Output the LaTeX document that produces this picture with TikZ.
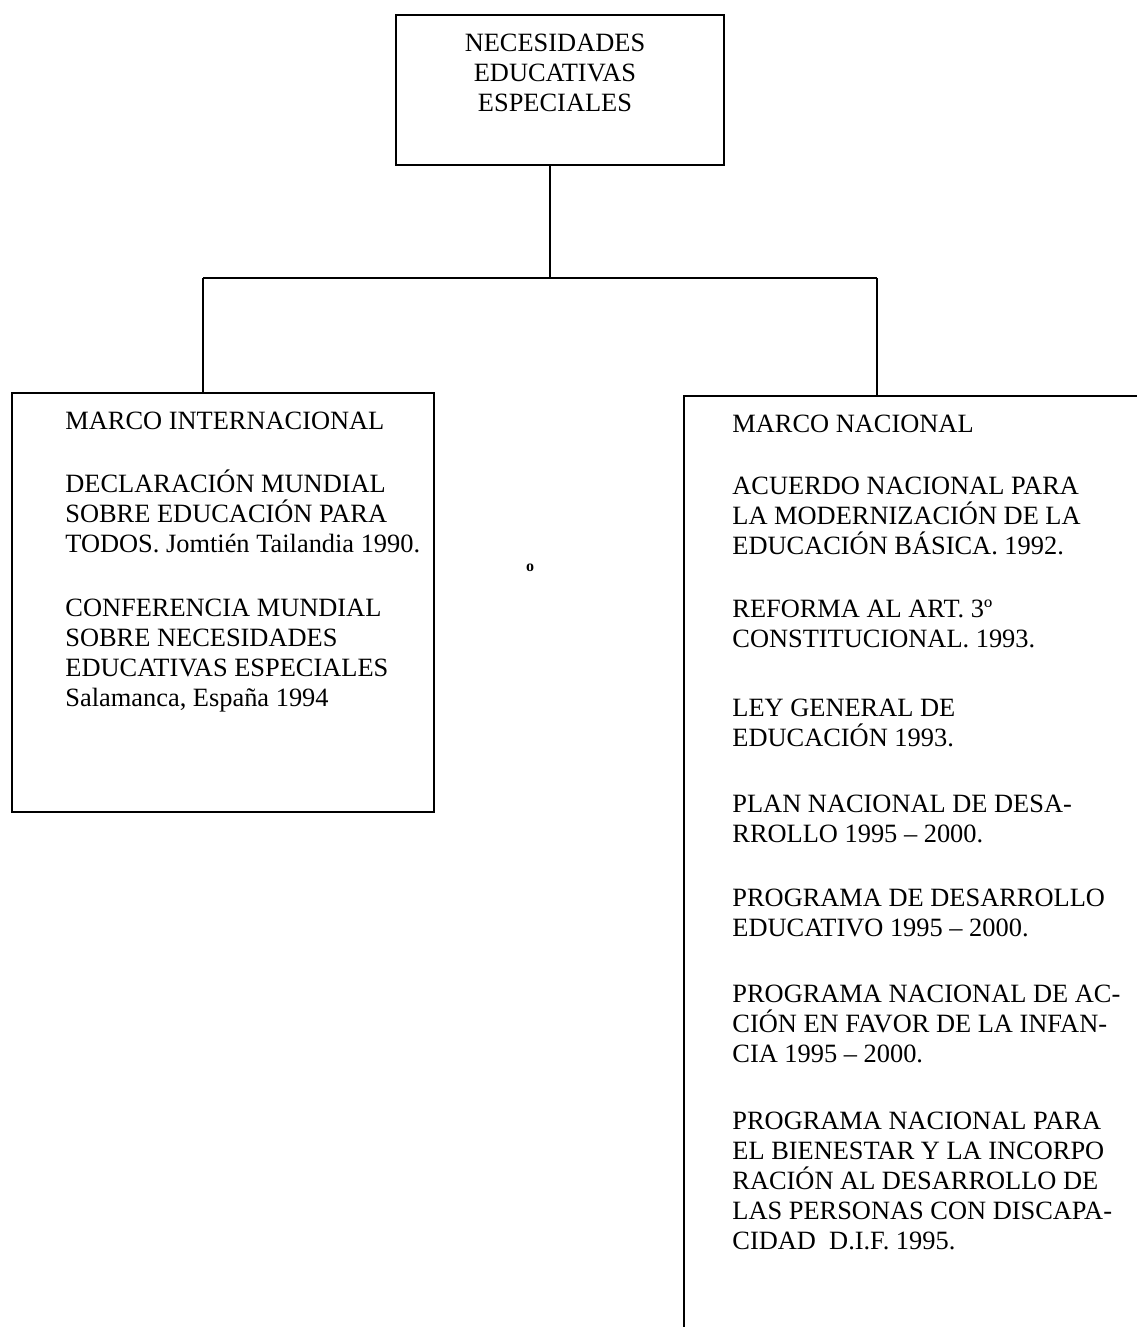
\documentclass[tikz,border=0pt]{standalone}
\usepackage{fontspec}
\setmainfont{Liberation Serif}
\newcommand{\fst}{\rule{0pt}{13pt}}
\begin{document}
\begin{tikzpicture}[x=0.5pt,y=-0.5pt,
  box/.style={draw, line width=1.2pt, inner sep=0pt},
  link/.style={line width=1.1pt},
  txt/.style={inner sep=0pt, align=left, anchor=north west, font=\fontsize{13.2}{15}\selectfont},
  ctxt/.style={inner sep=0pt, align=center, anchor=north, font=\fontsize{13.2}{15}\selectfont}]
\useasboundingbox (0,0) rectangle (1136,1327);
% boxes
\node[box, minimum width=164pt, minimum height=75pt] (top) at (560,90) {};
\node[box, minimum width=211pt, minimum height=209.5pt] (left) at (223,602.5) {};
\node[box, minimum width=240pt, minimum height=480pt] (right) at (924,876) {};
% connectors
\coordinate (hub) at (550,278);
\coordinate (lj) at (203,278);
\coordinate (rj) at (877,278);
\draw[link] (hub |- top.south) -- (hub);
\draw[link] (lj) -- (rj);
\draw[link] (lj) -- (lj |- left.north);
\draw[link] (rj) -- (rj |- right.north);
% top text
\node[ctxt] (ttl) at (555,25.6) {\fst NECESIDADES\\EDUCATIVAS\\ESPECIALES};
% left texts
\node[txt] (l1) at (65,402.6) {\fst MARCO INTERNACIONAL};
\node[txt] (l2) at (65,465.6) {\fst DECLARACIÓN MUNDIAL\\SOBRE EDUCACIÓN PARA\\TODOS. Jomtién Tailandia 1990.};
\node[txt] (l3) at (65,589.6) {\fst CONFERENCIA MUNDIAL\\SOBRE NECESIDADES\\EDUCATIVAS ESPECIALES\\Salamanca, España 1994};
% right texts
\node[txt] (r1) at (732,405.6) {\fst MARCO NACIONAL};
\node[txt] (r2) at (732,467.6) {\fst ACUERDO NACIONAL PARA\\LA MODERNIZACIÓN DE LA\\EDUCACIÓN BÁSICA. 1992.};
\node[txt] (r3) at (732,590.6) {\fst REFORMA AL ART. 3º\\CONSTITUCIONAL. 1993.};
\node[txt] (r4) at (732,689.6) {\fst LEY GENERAL DE\\EDUCACIÓN 1993.};
\node[txt] (r5) at (732,785.6) {\fst PLAN NACIONAL DE DESA-\\RROLLO 1995 – 2000.};
\node[txt] (r6) at (732,879.6) {\fst PROGRAMA DE DESARROLLO\\EDUCATIVO 1995 – 2000.};
\node[txt] (r7) at (732,975.6) {\fst PROGRAMA NACIONAL DE AC-\\CIÓN EN FAVOR DE LA INFAN-\\CIA 1995 – 2000.};
\node[txt] (r8) at (732,1102.6) {\fst PROGRAMA NACIONAL PARA\\EL BIENESTAR Y LA INCORPO\\RACIÓN AL DESARROLLO DE\\LAS PERSONAS CON DISCAPA-\\CIDAD\ \ D.I.F. 1995.};
% stray mark
\node[inner sep=0pt, font=\fontsize{8}{9}\selectfont\bfseries] (deg) at (530,568) {o};
\end{tikzpicture}
\end{document}
